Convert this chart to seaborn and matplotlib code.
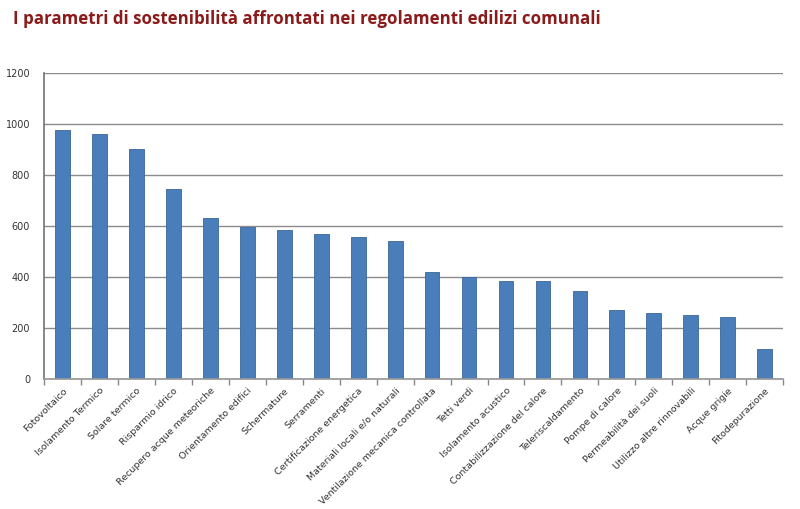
import matplotlib
matplotlib.use("Agg")
import matplotlib.pyplot as plt
import seaborn as sns
import pandas as pd
import numpy as np

categories = ["Fotovoltaico", "Isolamento Termico", "Solare termico", "Risparmio idrico",
              "Recupero acque meteoriche", "Orientamento edifici", "Schermature", "Serramenti",
              "Certificazione energetica", "Materiali locali e/o naturali",
              "Ventilazione mecanica controllata", "Tetti verdi", "Isolamento acustico",
              "Contabilizzazione del calore", "Teleriscaldamento", "Pompe di calore",
              "Permeabilità dei suoli", "Utilizzo altre rinnovabili", "Acque grigie",
              "Fitodepurazione"]
values = [977, 961, 901, 744, 633, 598, 585, 570, 555, 543,
          419, 402, 386, 386, 347, 272, 259, 250, 243, 117]
yticks = [0, 200, 400, 600, 800, 1000, 1200]
title = "I parametri di sostenibilità affrontati nei regolamenti edilizi comunali"

sns.set_theme(style="white")
df = pd.DataFrame({"cat": categories, "val": values})

fig = plt.figure(figsize=(8, 5.09), dpi=100)
ax = fig.add_axes([0.055, 0.255, 0.924, 0.602])
sns.barplot(data=df, x="cat", y="val", color="#4A7EBB", width=0.4, ax=ax,
            edgecolor="#3B6699", linewidth=0.6, saturation=1)
ax.set_ylim(0, 1200)
ax.set_xlim(-0.5, len(categories) - 0.5)
ax.set_yticks(yticks)
ax.set_yticklabels([str(t) for t in yticks], fontsize=7, color="#333333")
ax.yaxis.grid(True, color="#8c8c8c", linewidth=1.0)
ax.set_axisbelow(True)
ax.set_xlabel("")
ax.set_ylabel("")
for s in ["top", "right"]:
    ax.spines[s].set_visible(False)
ax.spines["left"].set_color("#777777")
ax.spines["bottom"].set_color("#999999")
ax.tick_params(axis="y", length=0, pad=10)
ax.set_xticks(np.arange(len(categories)))
ax.set_xticklabels(categories, rotation=45, ha="right", rotation_mode="anchor",
                   fontsize=6.8, color="#333333")
ax.tick_params(axis="x", length=0, pad=5)
ax.set_xticks(np.arange(-0.5, len(categories)), minor=True)
ax.tick_params(axis="x", which="minor", length=4, color="#888888", direction="out", bottom=True)

fig.text(0.016, 0.962, title, fontsize=12.2, color="#8B1A1A", fontweight="bold",
         family=["Open Sans", "DejaVu Sans"], va="center", ha="left")

fig.savefig("out.png", dpi=100, facecolor="white")
